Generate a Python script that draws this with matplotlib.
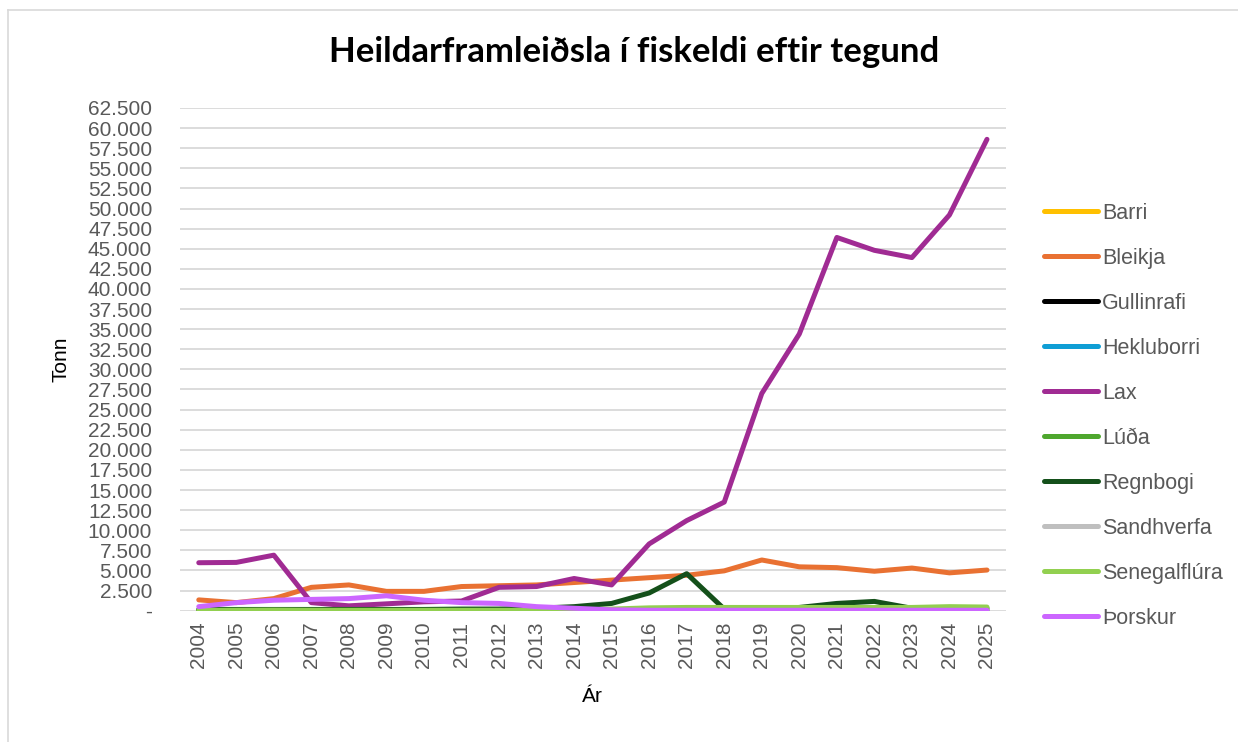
import matplotlib.pyplot as plt
from matplotlib.lines import Line2D
from matplotlib.ticker import FuncFormatter, MultipleLocator

years = list(range(2004, 2026))

series_names = ["Barri", "Bleikja", "Gullinrafi", "Hekluborri", "Lax",
                "Lúða", "Regnbogi", "Sandhverfa", "Senegalflúra", "Þorskur"]
series_colors = ["#FFC000", "#E97132", "#000000", "#0F9ED5", "#A02B93",
                 "#4EA72E", "#14501A", "#BFBFBF", "#92D050", "#CC66FF"]

barri = [0] * 22
bleikja = [1340, 1000, 1500, 2900, 3200, 2400, 2400, 3000, 3100, 3200, 3500,
           3800, 4100, 4400, 4950, 6300, 5450, 5350, 4900, 5300, 4700, 5050]
gullinrafi = [0] * 22
hekluborri = [0] * 22
lax = [5960, 6000, 6900, 1000, 600, 850, 1100, 1200, 2900, 3000, 4000,
       3200, 8300, 11200, 13500, 27000, 34400, 46400, 44800, 43900, 49200, 58600]
luda = [50, 60, 80, 60, 50, 50, 50, 50, 50, 40, 40,
        30, 30, 30, 20, 20, 20, 20, 20, 20, 20, 20]
regnbogi = [150, 150, 150, 150, 150, 150, 150, 200, 200, 300, 500,
            900, 2200, 4600, 200, 150, 400, 900, 1150, 300, 300, 300]
sandhverfa = [0] * 22
senegalflura = [50, 60, 80, 60, 50, 50, 50, 50, 50, 50, 60,
                200, 350, 400, 400, 400, 400, 400, 400, 400, 500, 450]
thorskur = [500, 1000, 1300, 1400, 1500, 1850, 1300, 1000, 900, 500, 300,
            100, 50, 50, 50, 50, 50, 50, 50, 50, 50, 50]

series_values = [barri, bleikja, gullinrafi, hekluborri, lax,
                 luda, regnbogi, sandhverfa, senegalflura, thorskur]

plt.rcParams['font.family'] = ['Liberation Sans', 'DejaVu Sans']
grey = "#595959"

fig = plt.figure(figsize=(12.38, 7.42), dpi=100)
ax = fig.add_axes([0.1454, 0.177, 0.667, 0.6775])

x = list(range(len(years)))
for name, vals, col in zip(series_names, series_values, series_colors):
    ax.plot(x, vals, color=col, lw=3.6, solid_capstyle='round',
            solid_joinstyle='round', label=name)

ax.set_xlim(-0.5, len(years) - 0.5)
ax.set_ylim(0, 62500)
ax.yaxis.set_major_locator(MultipleLocator(2500))


def fmt(v, pos):
    if v == 0:
        return "-"
    return f"{int(v):,}".replace(",", ".")


ax.yaxis.set_major_formatter(FuncFormatter(fmt))
ax.set_xticks(x)
ax.set_xticklabels([str(y) for y in years], rotation=90)
ax.tick_params(axis='both', length=0, labelsize=15, colors=grey)
ax.tick_params(axis='x', pad=8)
ax.tick_params(axis='y', pad=20)
ax.grid(axis='y', color="#D9D9D9", lw=1.3)
ax.set_axisbelow(True)
for s in ax.spines.values():
    s.set_visible(False)

ax.set_ylabel("Tonn", fontsize=15, color="black")
ax.yaxis.set_label_coords(-0.133, 0.5)
ax.set_xlabel("Ár", fontsize=15, color="black")
ax.xaxis.set_label_coords(0.499, -0.151)
fig.text(0.512, 0.93, "Heildarframleiðsla í fiskeldi eftir tegund",
         ha='center', va='center', fontsize=25, fontweight='bold',
         family=['Lato', 'DejaVu Sans'])

handles = [Line2D([], [], color=c, lw=3.6, solid_capstyle='round') for c in series_colors]
leg = fig.legend(handles, series_names, loc='upper left',
                 bbox_to_anchor=(0.8345, 0.741), frameon=False, borderpad=0,
                 fontsize=15.5, labelspacing=1.115, handlelength=2.5,
                 handletextpad=0.2, labelcolor=grey)

# chart area border (cropped on right and bottom)
fig.add_artist(Line2D([0.0065, 0.0065], [0, 0.987], color="#D9D9D9", lw=1.2,
                      transform=fig.transFigure))
fig.add_artist(Line2D([0.0065, 1.0], [0.987, 0.987], color="#D9D9D9", lw=1.2,
                      transform=fig.transFigure))

fig.savefig("out.png", dpi=100)
